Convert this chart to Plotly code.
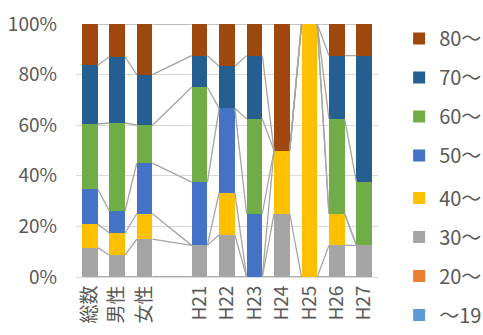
import plotly.graph_objects as go

categories = ["総数", "男性", "女性", "", "H21", "H22", "H23", "H24", "H25", "H26", "H27"]
series_names = ["～19", "20～", "30～", "40～", "50～", "60～", "70～", "80～"]
colors = ["#5B9BD5", "#ED7D31", "#A5A5A5", "#FFC000", "#4472C4", "#70AD47", "#255E91", "#9E480E"]

# counts per age group (None = blank spacer column)
v_19 = [0, 0, 0, None, 0, 0, 0, 0, 0, 0, 0]
v_20 = [0, 0, 0, None, 0, 0, 0, 0, 0, 0, 0]
v_30 = [5, 2, 3, None, 1, 1, 0, 1, 0, 1, 1]
v_40 = [4, 2, 2, None, 0, 1, 0, 1, 1, 1, 0]
v_50 = [6, 2, 4, None, 2, 2, 2, 0, 0, 0, 0]
v_60 = [11, 8, 3, None, 3, 0, 3, 0, 0, 3, 2]
v_70 = [10, 6, 4, None, 1, 1, 2, 0, 0, 2, 4]
v_80 = [7, 3, 4, None, 1, 1, 1, 2, 0, 1, 1]
series_values = [v_19, v_20, v_30, v_40, v_50, v_60, v_70, v_80]

y_ticks = [0, 20, 40, 60, 80, 100]

BAR_W = 0.5714
idx = [i for i, c in enumerate(categories) if c != ""]
totals = {i: sum(s[i] for s in series_values) for i in idx}

fig = go.Figure()
pcts = []
n = len(series_names)
for k, (name, col, vals) in enumerate(zip(series_names, colors, series_values)):
    p = [None if v is None else v / totals[i] * 100 for i, v in enumerate(vals)]
    pcts.append(p)
    fig.add_trace(go.Bar(
        x=idx, y=[p[i] for i in idx], name=name, marker_color=col,
        marker_line_width=0, width=BAR_W, legendgroup=name,
        legendrank=n - k, legend="legend" if k >= 4 else "legend2",
    ))

# series lines connecting tops of each segment
cum = [0.0] * len(categories)
for k, p in enumerate(pcts):
    for i in idx:
        cum[i] += p[i]
    lx, ly = [], []
    for a, b in zip(idx[:-1], idx[1:]):
        lx += [a + BAR_W / 2, b - BAR_W / 2, None]
        ly += [cum[a], cum[b], None]
    fig.add_trace(go.Scatter(
        x=lx, y=ly, mode="lines", line=dict(color="#A5A5A5", width=1.3),
        showlegend=False, hoverinfo="skip",
    ))

font_fam = "Noto Sans CJK JP"
leg_common = dict(
    traceorder="grouped", tracegroupgap=10,
    xanchor="left", yanchor="middle",
    font=dict(size=20, color="#595959", family=font_fam),
    bgcolor="rgba(0,0,0,0)", itemwidth=30,
)
fig.update_layout(
    width=483, height=335,
    barmode="stack",
    plot_bgcolor="white", paper_bgcolor="white",
    margin=dict(l=76, r=105, t=24, b=58, autoexpand=False),
    font=dict(family=font_fam, size=19, color="#595959"),
    legend=dict(x=1.07, y=0.711, **leg_common),
    legend2=dict(x=1.07, y=0.081, **leg_common),
    showlegend=True,
)
fig.update_xaxes(
    range=[-0.5, 10.5], tickmode="array",
    tickvals=list(range(len(categories))), ticktext=categories,
    tickangle=-90, showgrid=False, zeroline=False,
    showline=True, linecolor="#D9D9D9", linewidth=1,
    ticks="", automargin=False, fixedrange=True,
)
fig.update_yaxes(
    range=[0, 100], tickvals=y_ticks, ticktext=[f"{t}%" for t in y_ticks],
    showgrid=True, gridcolor="#D9D9D9", gridwidth=1,
    zeroline=False, showline=False, ticks="", automargin=False,
    ticklabelstandoff=18,
)
fig.write_html(
    "out.html",
    config={"displayModeBar": False},
    post_script="document.body.style.margin='0';document.body.style.overflow='hidden';",
)
